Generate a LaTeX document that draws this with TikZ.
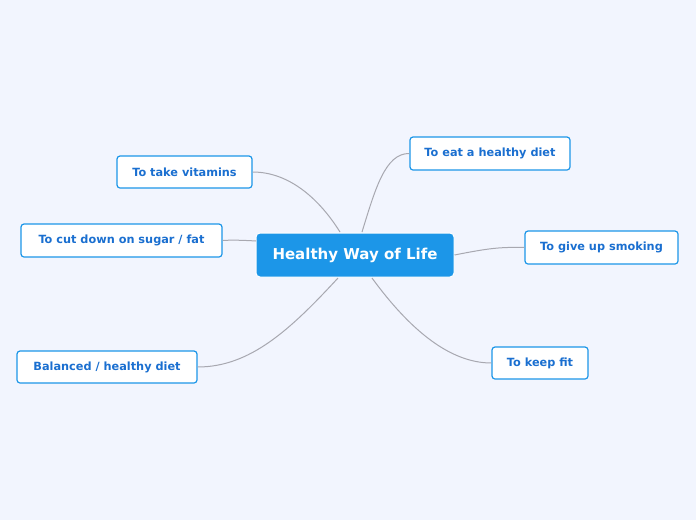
\documentclass[tikz,border=0pt]{standalone}
\usepackage{fontspec}
\setmainfont{DejaVu Sans}
\definecolor{bg}{HTML}{F2F5FE}
\definecolor{mainblue}{HTML}{1C96E8}
\definecolor{txtblue}{HTML}{1A6FD0}
\definecolor{lnk}{HTML}{A8A8B0}
\begin{document}
\begin{tikzpicture}[x=1pt,y=-1pt,
  sub/.style={draw=mainblue,line width=1.2pt,fill=white,rounded corners=3pt,text=txtblue,font=\bfseries\fontsize{11.3}{13}\selectfont,inner sep=0pt},
  root/.style={fill=mainblue,draw=white,line width=1pt,rounded corners=4pt,text=white,font=\bfseries\fontsize{15}{17}\selectfont,inner sep=0pt,minimum width=198pt,minimum height=44pt},
  lk/.style={draw=lnk,line width=1pt}]
\fill[bg] (0,0) rectangle (696,520);
\useasboundingbox (0,0) rectangle (696,520);
\node[root] (c) at (355,255) {Healthy Way of Life};
\node[sub,minimum width=160pt,minimum height=33pt] (a) at (490,153.5) {To eat a healthy diet};
\node[sub,minimum width=153pt,minimum height=33pt] (b) at (601.5,247.5) {To give up smoking};
\node[sub,minimum width=96pt,minimum height=32pt] (d) at (540,363) {To keep fit};
\node[sub,minimum width=135pt,minimum height=32pt] (e) at (184.5,172) {To take vitamins};
\node[sub,minimum width=201pt,minimum height=33pt] (f) at (121.5,240.5) {To cut down on sugar / fat};
\node[sub,minimum width=180pt,minimum height=32pt] (g) at (107,367) {Balanced / healthy diet};
\coordinate (c1) at (362,232);
\coordinate (c2) at (340,232);
\coordinate (c3) at (372,278);
\coordinate (c4) at (338,278);
\coordinate (c5) at (256,241);
\draw[lk] (c1) .. controls (375,190) and (385,153) .. (a.west);
\draw[lk] (c.east) .. controls (490,248) and (500,247) .. (b.west);
\draw[lk] (c3) .. controls (410,330) and (450,363) .. (d.west);
\draw[lk] (c2) .. controls (320,200) and (290,172) .. (e.east);
\draw[lk] (c5) .. controls (240,240) and (230,240) .. (f.east);
\draw[lk] (c4) .. controls (290,330) and (250,367) .. (g.east);
\end{tikzpicture}
\end{document}
